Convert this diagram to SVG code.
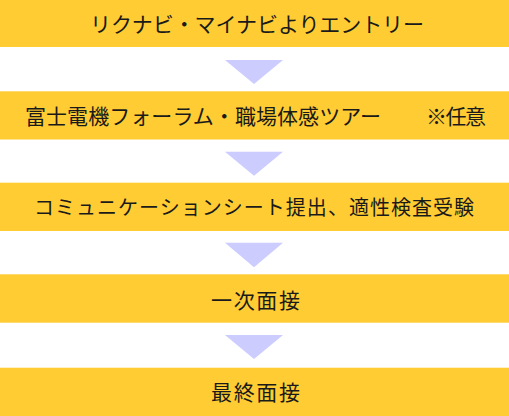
<svg xmlns="http://www.w3.org/2000/svg" width="509" height="416" viewBox="0 0 509 416">
<style>
.bar{fill:#FFCC33}
.arr{fill:#CCCCFF}
text{font-family:"Noto Sans CJK JP","Noto Sans",sans-serif;font-size:21px;fill:#1a1a1a}
text.s{font-size:20px}
</style>
<rect width="509" height="416" fill="#ffffff"/>
<g id="connectors">
<polygon class="arr" points="225,60 283,60 254,84"/>
<polygon class="arr" points="225,151.7 283,151.7 254,175.7"/>
<polygon class="arr" points="225,242.7 283,242.7 254,267.3"/>
<polygon class="arr" points="225,335 283,335 254,359"/>
</g>
<g id="node1">
<rect class="bar" x="0" y="0" width="509" height="47"/>
<text x="90" y="31.5" textLength="334" lengthAdjust="spacing">リクナビ・マイナビよりエントリー</text>
</g>
<g id="node2">
<rect class="bar" x="0" y="91.3" width="509" height="48.2"/>
<text x="25" y="123.5" textLength="356" lengthAdjust="spacing">富士電機フォーラム・職場体感ツアー</text>
<text x="426" y="123.5" textLength="60" lengthAdjust="spacing">※任意</text>
</g>
<g id="node3">
<rect class="bar s" x="0" y="182.7" width="509" height="48.3"/>
<text class="s" x="34" y="215" textLength="440" lengthAdjust="spacing">コミュニケーションシート提出、適性検査受験</text>
</g>
<g id="node4">
<rect class="bar" x="0" y="274.3" width="509" height="48.4"/>
<text x="211" y="307.5" textLength="89" lengthAdjust="spacing">一次面接</text>
</g>
<g id="node5">
<rect class="bar" x="0" y="367.7" width="509" height="48.3"/>
<text x="211" y="399.5" textLength="89" lengthAdjust="spacing">最終面接</text>
</g>
</svg>
